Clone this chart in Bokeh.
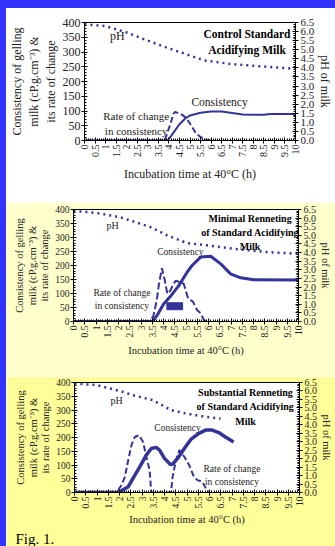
from math import pi
from bokeh.plotting import figure
from bokeh.models import Range1d, LinearAxis, FixedTicker, Label, Spacer, Title
from bokeh.layouts import column, row
from bokeh.embed import file_html
from bokeh.resources import INLINE

# ---------------- data ----------------
X_TICKS = [0, 0.5, 1, 1.5, 2, 2.5, 3, 3.5, 4, 4.5, 5, 5.5, 6, 6.5, 7, 7.5, 8, 8.5, 9, 9.5, 10]
X_TICK_LABELS = ["0", "0.5", "1", "1.5", "2", "2.5", "3", "3.5", "4", "4.5", "5", "5.5",
                 "6", "6.5", "7", "7.5", "8", "8.5", "9", "9.5", "10"]
Y_TICKS = [0, 50, 100, 150, 200, 250, 300, 350, 400]
Y_TICK_LABELS = ["0", "50", "100", "150", "200", "250", "300", "350", "400"]
PH_TICKS = [0.0, 0.5, 1.0, 1.5, 2.0, 2.5, 3.0, 3.5, 4.0, 4.5, 5.0, 5.5, 6.0, 6.5]
PH_TICK_LABELS = ["0.0", "0.5", "1.0", "1.5", "2.0", "2.5", "3.0", "3.5", "4.0", "4.5",
                  "5.0", "5.5", "6.0", "6.5"]

# Panel 1: Control standard acidifying milk
p1_cons_t = [0, 3.9, 4.0, 4.25, 4.5, 4.75, 5.0, 5.5, 6.0, 6.5, 7.0, 7.5, 8.0, 8.5, 8.8, 10]
p1_cons_v = [0, 0, 5, 30, 55, 73, 85, 94, 98, 98, 93, 88, 87, 87, 90, 90]
p1_rate_t = [0, 3.8, 4.07, 4.22, 4.3, 4.45, 4.63, 4.83, 5.06, 5.29, 5.52, 5.82, 6.0]
p1_rate_v = [0, 0, 56, 91, 97, 92, 87, 76, 51, 23, 11, 2, 0]
p1_ph_t = [0, 1.0, 2.0, 3.0, 3.84, 4.75, 5.67, 6.9, 8.4, 10]
p1_ph_v = [6.4, 6.3, 5.95, 5.5, 5.14, 4.78, 4.41, 4.22, 4.08, 3.95]

# Panel 2: Minimal renneting
p2_cons_t = [0, 3.5, 3.7, 4.0, 4.3, 4.68, 5.05, 5.27, 5.65, 6.1, 6.54, 6.98, 7.43, 8.0, 10]
p2_cons_v = [0, 0, 20, 62, 89, 128, 176, 200, 230, 233, 206, 170, 156, 149, 148]
p2_rate_t = [0, 3.4, 3.55, 3.7, 3.8, 3.93, 4.05, 4.17, 4.3, 4.45, 4.55, 4.9, 5.1, 5.3, 5.5, 5.65, 5.8, 5.9]
p2_rate_v = [0, 0, 20, 75, 135, 190, 150, 99, 110, 135, 146, 135, 80, 72, 40, 30, 5, 0]
p2_ph_t = [0, 1.04, 2.08, 3.4, 4.16, 5.05, 5.94, 7.13, 8.6, 10]
p2_ph_v = [6.42, 6.3, 6.05, 5.49, 5.0, 4.55, 4.42, 4.22, 4.03, 3.93]
p2_box = [4.15, 4.85, 42, 67]  # left, right, bottom, top

# Panel 3: Substantial renneting
p3_cons_t = [0, 1.95, 2.39, 2.6, 2.9, 3.19, 3.41, 3.63, 3.78, 4.0, 4.25, 4.36, 4.58, 4.88,
             5.17, 5.53, 5.83, 6.12, 6.41, 6.71, 7.07]
p3_cons_v = [0, 0, 21, 51, 93, 136, 160, 164, 154, 124, 103, 103, 124, 160,
             193, 215, 227, 227, 218, 202, 184]
p3_rate_t = [0, 1.87, 2.09, 2.24, 2.39, 2.53, 2.68, 2.87, 3.05, 3.19, 3.34, 3.41, 4.29, 4.36,
             4.51, 4.66, 4.88, 5.1, 5.31, 5.46, 5.68, 5.9, 6.0]
p3_rate_v = [0, 0, 27, 57, 118, 172, 202, 208, 184, 130, 81, 0, 0, 57,
             118, 154, 130, 99, 57, 45, 39, 6, 0]
p3_ph_t = [0, 1.0, 2.02, 2.6, 3.48, 4.29, 4.95, 5.83, 6.49]
p3_ph_v = [6.44, 6.34, 6.0, 5.75, 5.46, 4.87, 4.67, 4.47, 4.37]

FONT = "Liberation Serif"
LINE = "#333399"
TXT = "#222222"
BLUE = "#3333ff"


def make_panel(h, left, right, top, bottom, bg, fs_tick, fs_xtick, fs_lab, xlab_standoff,
               ylab_lh, fs_rtick):
    p = figure(width=329, height=h, x_range=Range1d(0, 10), y_range=Range1d(0, 400),
               output_backend="svg", toolbar_location=None,
               min_border_left=left, min_border_right=right,
               min_border_top=top, min_border_bottom=bottom,
               background_fill_color="white", border_fill_color=bg,
               outline_line_color="black", outline_line_width=1)
    p.extra_y_ranges = {"ph": Range1d(0, 6.5)}
    p.grid.visible = False

    xa = p.xaxis[0]
    xa.ticker = FixedTicker(ticks=X_TICKS, minor_ticks=[i / 10 for i in range(0, 101)])
    xa.major_label_overrides = {t: l for t, l in zip(X_TICKS, X_TICK_LABELS)}
    xa.major_label_orientation = pi / 2
    xa.axis_label = "Incubation time at 40\u00b0C (h)"

    ya = p.yaxis[0]
    ya.ticker = FixedTicker(ticks=Y_TICKS, minor_ticks=list(range(0, 401, 10)))
    ya.major_label_overrides = {t: l for t, l in zip(Y_TICKS, Y_TICK_LABELS)}
    ya.axis_label = "Consistency of gelling\nmilk (cP.g.cm\u207b\u00b3) &\nits rate of change"

    ra = LinearAxis(y_range_name="ph")
    ra.ticker = FixedTicker(ticks=PH_TICKS, minor_ticks=[i / 10 for i in range(0, 66)])
    ra.major_label_overrides = {t: l for t, l in zip(PH_TICKS, PH_TICK_LABELS)}
    ra.axis_label = "pH of milk"
    ra.axis_label_orientation = "vertical"
    p.add_layout(ra, "right")

    for ax in (xa, ya, ra):
        ax.axis_line_color = "black"
        ax.major_tick_line_color = "black"
        ax.minor_tick_line_color = "black"
        ax.major_tick_in = 3
        ax.major_tick_out = 3
        ax.minor_tick_in = 2
        ax.minor_tick_out = 0
        ax.major_label_standoff = 1
        ax.major_label_text_font = FONT
        ax.major_label_text_font_size = f"{fs_tick}px"
        ax.major_label_text_color = TXT
        ax.axis_label_text_font = FONT
        ax.axis_label_text_font_style = "normal"
        ax.axis_label_text_font_size = f"{fs_lab}px"
        ax.axis_label_text_color = TXT
        ax.axis_label_standoff = 2
    ya.axis_label_text_line_height = ylab_lh
    ra.major_label_text_font_size = f"{fs_rtick}px"
    ra.major_label_standoff = 2
    ra.axis_label_standoff = 1
    xa.major_label_text_font_size = f"{fs_xtick}px"
    xa.axis_label_standoff = xlab_standoff
    return p


def ann(p, x, y, text, size, bold=False, color=TXT):
    p.add_layout(Label(x=x, y=y, text=text, text_align="center", text_baseline="middle",
                       text_font=FONT, text_font_size=f"{size}px",
                       text_font_style="bold" if bold else "normal",
                       text_color=color, text_line_height=1.3))


# ---------- panel 1 ----------
p1 = make_panel(194, 77, 34, 14, 62, "white", 12, 10, 12, 7, 1.2, 11)
p1.line(p1_ph_t, p1_ph_v, y_range_name="ph", line_color=LINE, line_width=2.5, line_dash="2 4")
p1.line(p1_rate_t, p1_rate_v, line_color=LINE, line_width=2, line_dash="6 3")
p1.line(p1_cons_t, p1_cons_v, line_color=LINE, line_width=2)
ann(p1, 1.56, 354, "pH", 12)
ann(p1, 7.7, 334, "Control Standard\nAcidifying Milk", 11.5, bold=True, color="black")
ann(p1, 6.4, 130, "Consistency", 11.5)
ann(p1, 2.45, 57, "Rate of change\nin consistency", 11)

# ---------- panel 2 ----------
p2 = make_panel(174, 67, 37, 7, 55, "#ffffcc", 9.5, 9.5, 10.5, 5, 1.15, 10)
p2.line(p2_ph_t, p2_ph_v, y_range_name="ph", line_color=LINE, line_width=2.5, line_dash="2 4")
p2.line(p2_rate_t, p2_rate_v, line_color=LINE, line_width=2, line_dash="7 3")
p2.line(p2_cons_t, p2_cons_v, line_color=LINE, line_width=3)
p2.quad(left=[p2_box[0]], right=[p2_box[1]], bottom=[p2_box[2]], top=[p2_box[3]],
        fill_color=LINE, line_color=LINE)
ann(p2, 1.74, 344, "pH", 10)
ann(p2, 7.85, 318, "Minimal Renneting\nof Standard Acidifying\nMilk", 10, bold=True, color="black")
ann(p2, 4.75, 247, "Consistency", 9.5)
ann(p2, 2.15, 77, "Rate of change\nin consistency", 9.5)

# ---------- panel 3 ----------
p3 = make_panel(170, 68, 33, 6, 54, "#ffff99", 9.5, 9.5, 10.5, 3, 1.15, 10)
p3.line(p3_ph_t, p3_ph_v, y_range_name="ph", line_color=LINE, line_width=2.5, line_dash="2 4")
p3.line(p3_rate_t, p3_rate_v, line_color=LINE, line_width=2, line_dash="6 3")
p3.line(p3_cons_t, p3_cons_v, line_color=LINE, line_width=3.5)
ann(p3, 1.87, 333, "pH", 10)
ann(p3, 7.6, 311, "Substantial Renneting\nof Standard Acidifying\nMilk", 10, bold=True, color="black")
ann(p3, 4.58, 236, "Consistency", 9.5)
ann(p3, 7.0, 62, "Rate of change\nin consistency", 9.5)
p3.add_layout(Title(text="Fig. 1.", align="left", offset=-59, standoff=0,
                    text_font=FONT, text_font_size="15px", text_font_style="normal",
                    text_color="black", text_line_height=1.0), "below")

top_band = Spacer(width=335, height=8, styles={"background-color": BLUE})
r1 = row(Spacer(width=6, height=194, styles={"background-color": BLUE}), p1, spacing=0)
r2 = row(Spacer(width=6, height=174, styles={"background-color": BLUE}), p2, spacing=0)
r3 = row(Spacer(width=6, height=170, styles={"background-color": BLUE}), p3, spacing=0)
layout = column(top_band, r1, r2, r3, spacing=0)
open("out.html", "w").write(file_html(layout, INLINE))
